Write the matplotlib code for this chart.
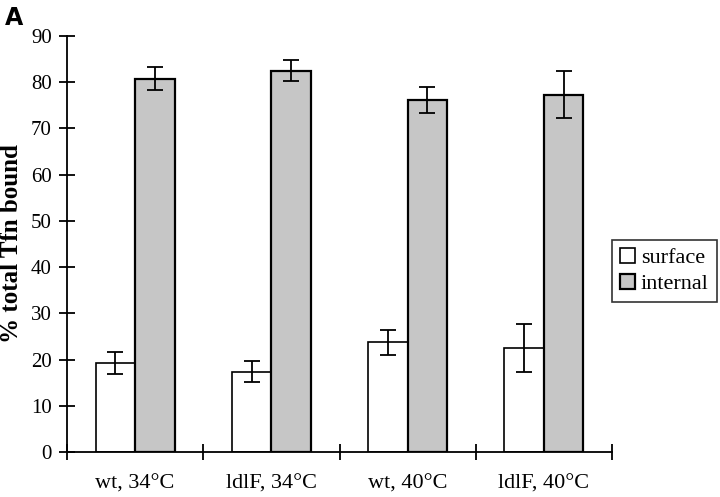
import matplotlib.pyplot as plt
import numpy as np

categories = ['wt, 34°C', 'ldlF, 34°C', 'wt, 40°C', 'ldlF, 40°C']
surface = [19.2, 17.4, 23.7, 22.5]
surface_err = [2.4, 2.3, 2.7, 5.1]
internal = [80.8, 82.5, 76.1, 77.3]
internal_err = [2.5, 2.2, 2.8, 5.1]

plt.rcParams['font.family'] = ['Liberation Serif', 'DejaVu Serif']

fig = plt.figure(figsize=(7.2, 4.97), dpi=100)
ax = fig.add_axes([67/720, 45/497, 545/720, 416/497])

x = np.arange(len(categories)) + 0.5
w = 0.29
err_kw = dict(ecolor='black', elinewidth=1.3, capsize=6, capthick=1.3)
ax.bar(x - w/2, surface, w, yerr=surface_err, color='white', edgecolor='black',
       linewidth=1.2, label='surface', error_kw=err_kw)
ax.bar(x + w/2, internal, w, yerr=internal_err, color='#c6c6c6', edgecolor='black',
       linewidth=1.6, label='internal', error_kw=err_kw)

ax.set_xlim(0, 4)
ax.set_ylim(0, 90)
ax.set_yticks(range(0, 91, 10))
ax.set_xticks([0, 1, 2, 3, 4])
ax.set_xticks(x, minor=True)
ax.set_xticklabels([])
ax.set_xticklabels(categories, minor=True)
ax.tick_params(axis='x', which='minor', length=0, labelsize=16, pad=16)
ax.tick_params(axis='x', which='major', direction='inout', length=12, width=1.3)
ax.tick_params(axis='y', direction='inout', length=12, width=1.3, labelsize=15, pad=5)
for s in ['top', 'right']:
    ax.spines[s].set_visible(False)
for s in ['left', 'bottom']:
    ax.spines[s].set_linewidth(1.3)

ax.set_ylabel('% total Tfn bound', fontsize=18, fontweight='bold', labelpad=6)

leg = ax.legend(loc='upper left', bbox_to_anchor=(612/720, 1 - 240/497),
                bbox_transform=fig.transFigure, frameon=True, fancybox=False,
                fontsize=16, handlelength=0.7, handleheight=0.7, handletextpad=0.25,
                borderpad=0.35, labelspacing=0.25, borderaxespad=0)
leg.get_frame().set_edgecolor('black')
leg.get_frame().set_linewidth(1.2)

fig.text(0.007, 0.988, 'A', fontsize=17, fontweight='bold', family='DejaVu Sans',
         va='top', ha='left')

fig.savefig('out.png', dpi=100)
